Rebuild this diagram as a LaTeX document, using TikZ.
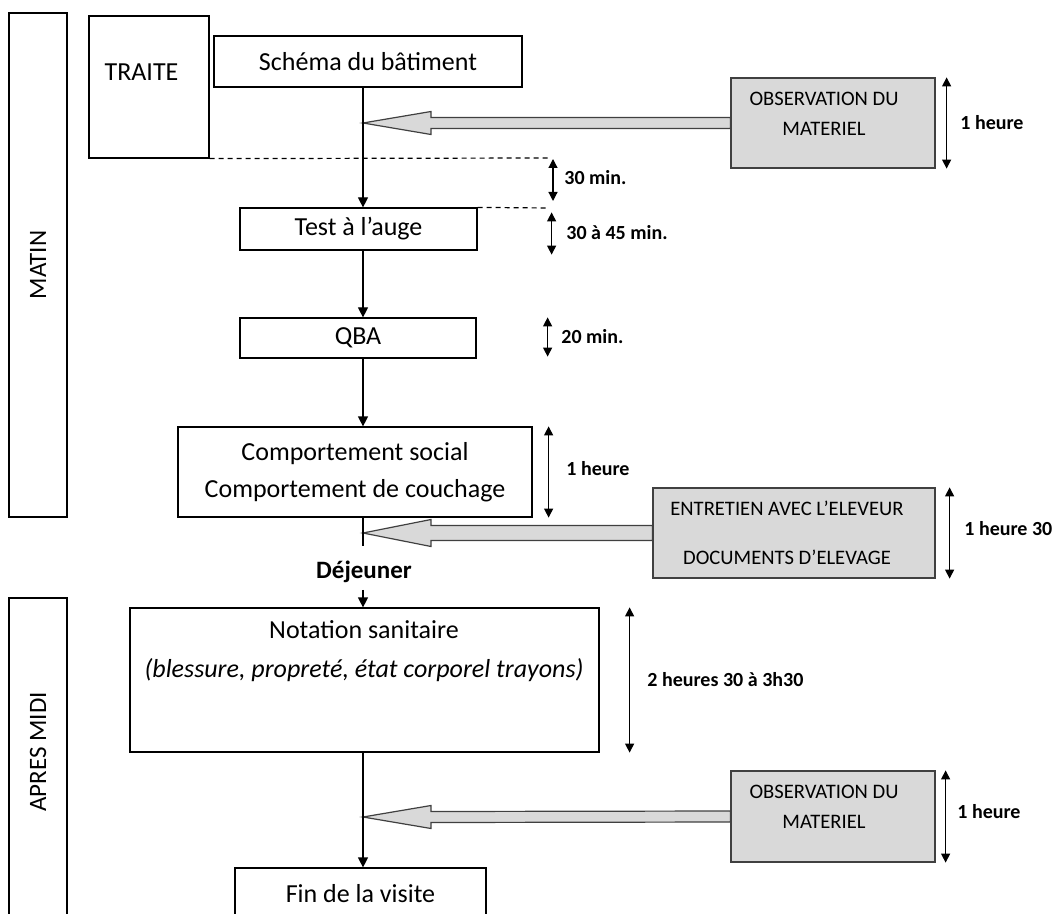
\documentclass[tikz,border=0pt]{standalone}
\usepackage{fontspec}
\setmainfont{Carlito}
\usepackage{tikz}
\usetikzlibrary{arrows.meta, positioning, calc}

\tikzset{
  flowbox/.style={draw=black, line width=0.6pt, inner sep=0pt, font=\fontsize{13}{15.6}\selectfont, align=center},
  graybox/.style={draw=black!75, line width=0.6pt, fill=gray!30, inner sep=0pt},
  graytext/.style={font=\fontsize{10.3}{12.4}\selectfont, align=center, inner sep=0pt},
  maintext/.style={font=\fontsize{13}{15.6}\selectfont, inner sep=0pt},
  dur/.style={font=\bfseries\fontsize{10}{12}\selectfont, anchor=west, inner sep=0pt},
  flow/.style={line width=0.6pt, -{Triangle[length=5pt,width=5pt]}},
  spanarrow/.style={line width=0.6pt, {Triangle[length=4.5pt,width=4.5pt]}-{Triangle[length=4.5pt,width=4.5pt]}},
  guide/.style={line width=0.6pt, dash pattern=on 2.5pt off 2pt},
  blockarrow/.style={draw=black!75, line width=0.6pt, fill=gray!30, line join=miter}
}

\begin{document}
\begin{tikzpicture}[x=0.5pt, y=-0.5pt]
\useasboundingbox (0,0) rectangle (1059,914);
\clip (0,0) rectangle (1059,914);
% periodes
\node[flowbox, minimum width=29pt, minimum height=252pt] (matin) at (38,265) {};
\node[maintext, rotate=90, font=\fontsize{12.5}{15}\selectfont] (matinlbl) at (38,265) {MATIN};
\node[flowbox, minimum width=29pt, minimum height=171pt] (apres) at (38,769) {};
\node[maintext, rotate=90, font=\fontsize{12.5}{15}\selectfont] (apreslbl) at (38,752) {APRES MIDI};
% etapes
\node[flowbox, minimum width=60pt, minimum height=71pt] (traite) at (149,87) {};
\node[maintext] (traitelbl) at (141.5,72) {TRAITE};
\node[flowbox, minimum width=154pt, minimum height=25.5pt] (schema) at (368,61.5) {Schéma du bâtiment};
\node[flowbox, minimum width=118.5pt, minimum height=21pt] (test) at (358.5,229) {Test à l’auge};
\node[flowbox, minimum width=118pt, minimum height=20pt] (qba) at (358,338) {QBA};
\node[flowbox, minimum width=177pt, minimum height=45pt] (comp) at (355,472) {Comportement social\\[2.9pt]Comportement de couchage};
\node[font=\bfseries\fontsize{12.5}{15}\selectfont] (dej) at (364,572) {Déjeuner};
\node[flowbox, minimum width=234.5pt, minimum height=72pt] (notation) at (364.5,680) {};
\node[maintext] (notationlbl) at (364,630) {Notation sanitaire};
\node[maintext, font=\itshape\fontsize{13}{15.6}\selectfont] (notationdet) at (364,670) {(blessure, propreté, état corporel trayons)};
\node[flowbox, minimum width=125.5pt, minimum height=26pt] (fin) at (360.5,894) {Fin de la visite};
% activites annexes
\node[graybox, minimum width=102pt, minimum height=45pt] (obsa) at (833,123) {};
\node[graytext] (obsalbl) at (824,114) {OBSERVATION DU\\[2.6pt]MATERIEL};
\node[graybox, minimum width=141pt, minimum height=45pt] (entretien) at (794,533) {};
\node[graytext] (entretienlbl) at (787,533) {ENTRETIEN AVEC L’ELEVEUR\\[12.1pt]DOCUMENTS D’ELEVAGE};
\node[graybox, minimum width=102pt, minimum height=45.5pt] (obsb) at (833,816.5) {};
\node[graytext] (obsblbl) at (824,807) {OBSERVATION DU\\[2.6pt]MATERIEL};
\coordinate (tipa) at (363,123);
\coordinate (tipb) at (363,533);
\coordinate (tipc) at (363,817);
\coordinate (lunch) at (363,546);
\coordinate (dasha) at (548,158);
\coordinate (dashb) at (548,208);
\foreach \src/\dst/\hw/\sw in {obsa/tipa/11.5/5.5, entretien/tipb/13.5/7.5, obsb/tipc/11.5/5.5}
  \draw[blockarrow] (\dst) -- ++(68,-\hw) -- ($(\dst)+(68,-\sw)$) -- ($(\src.west)+(0,-\sw)$)
    -- ($(\src.west)+(0,\sw)$) -- ($(\dst)+(68,\sw)$) -- ($(\dst)+(68,\hw)$) -- cycle;
% enchainement
\draw[flow] (tipa |- schema.south) -- (tipa |- test.north);
\draw[flow] (tipa |- test.south) -- (tipa |- qba.north);
\draw[flow] (tipa |- qba.south) -- (tipa |- comp.north);
\draw[line width=0.6pt] (tipa |- comp.south) -- (lunch);
\draw[flow] (tipa |- dej.south) -- (tipa |- notation.north);
\draw[flow] (tipa |- notation.south) -- (tipa |- fin.north);
\draw[guide] (traite.south east) -- (dasha);
\draw[guide] (test.north east) -- (dashb);
% durees
\draw[spanarrow] ([xshift=5.5pt]obsa.north east) -- ([xshift=5.5pt]obsa.south east);
\draw[spanarrow] ([xshift=2.5pt,yshift=-0.5pt]dasha) -- ([xshift=2.5pt,yshift=3.5pt]dashb);
\draw[spanarrow] ([xshift=37pt,yshift=-2.5pt]test.north east) -- ([xshift=37pt,yshift=-2pt]test.south east);
\draw[spanarrow] ([xshift=35.5pt]qba.north east) -- ([xshift=35.5pt,yshift=1pt]qba.south east);
\draw[spanarrow] ([xshift=8pt]comp.north east) -- ([xshift=8pt]comp.south east);
\draw[spanarrow] ([xshift=7pt]entretien.north east) -- ([xshift=7pt]entretien.south east);
\draw[spanarrow] ([xshift=15pt]notation.north east) -- ([xshift=15pt]notation.south east);
\draw[spanarrow] ([xshift=5pt]obsb.north east) -- ([xshift=5pt]obsb.south east);
\node[dur] (lblobsa) at (960,123) {1 heure};
\node[dur] (lbltrans) at (564,178) {30 min.};
\node[dur] (lbltest) at (566,233) {30 à 45 min.};
\node[dur] (lblqba) at (561,337) {20 min.};
\node[dur] (lblcomp) at (566,469) {1 heure};
\node[dur] (lblentretien) at (964,529) {1 heure 30};
\node[dur] (lblnotation) at (647,680) {2 heures 30 à 3h30};
\node[dur] (lblobsb) at (957,812) {1 heure};
\end{tikzpicture}
\end{document}
